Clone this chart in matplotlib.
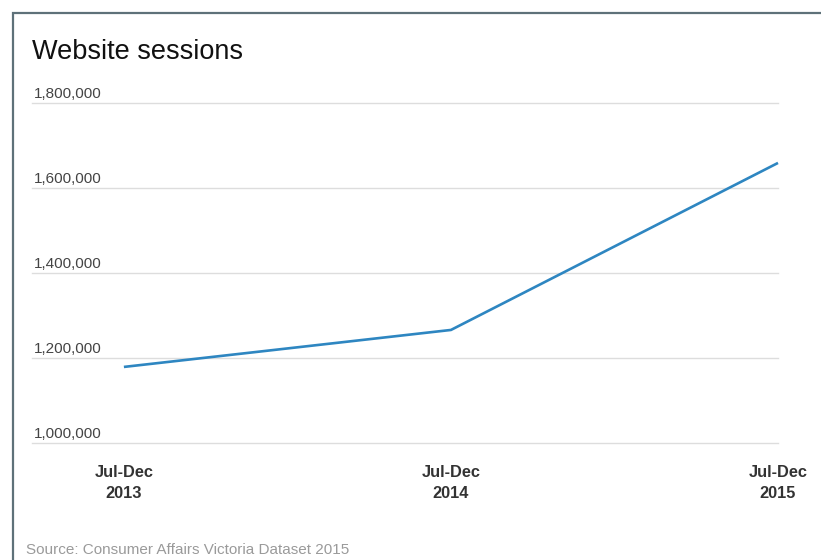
import matplotlib
matplotlib.use("Agg")
import matplotlib.pyplot as plt
import matplotlib.transforms as mtransforms
from matplotlib.lines import Line2D

categories = ["Jul-Dec\n2013", "Jul-Dec\n2014", "Jul-Dec\n2015"]
sessions = [1179000, 1266000, 1659000]
y_ticks = [1000000, 1200000, 1400000, 1600000, 1800000]
y_tick_labels = ["1,000,000", "1,200,000", "1,400,000", "1,600,000", "1,800,000"]

plt.rcParams['font.family'] = ['Liberation Sans', 'DejaVu Sans']

W, H = 821, 560
fig = plt.figure(figsize=(W / 100, H / 100), dpi=100)
fig.patch.set_facecolor("white")

left, right, top, bottom = 32, 778, 103, 443
ax = fig.add_axes([left / W, 1 - bottom / H, (right - left) / W, (bottom - top) / H])

x = list(range(len(categories)))
ax.plot(x, sessions, color="#2e86c1", linewidth=1.9, clip_on=False, solid_capstyle="butt", zorder=3)

ax.set_xlim(-0.281, 2)
ax.set_ylim(y_ticks[0], y_ticks[-1])
ax.set_yticks(y_ticks)
ax.yaxis.grid(True, color="#dddddd", linewidth=1)
for gl in ax.get_ygridlines():
    gl.set_clip_on(False)
ax.set_axisbelow(True)
ax.tick_params(axis="y", left=False, labelleft=False)
ax.tick_params(axis="x", bottom=False, pad=12)
ax.set_xticks(x)
ax.set_xticklabels(categories, fontweight="bold", fontsize=11.8, color="#333333", linespacing=1.5)
for s in ax.spines.values():
    s.set_visible(False)

offset = mtransforms.ScaledTranslation(2 / 100, 5 / 100, fig.dpi_scale_trans)
trans = mtransforms.blended_transform_factory(ax.transAxes, ax.transData) + offset
for v, lab in zip(y_ticks, y_tick_labels):
    ax.text(0, v, lab, transform=trans, ha="left", va="baseline", fontsize=11, color="#444444")

fig.text(32 / W, 1 - 59 / H, "Website sessions", fontsize=19.5, color="#111111", ha="left", va="baseline")
fig.text(26 / W, 1 - 554 / H, "Source: Consumer Affairs Victoria Dataset 2015", fontsize=11, color="#9a9a9a",
         ha="left", va="baseline")

frame_color = "#5e7179"
fig.add_artist(Line2D([12.5 / W, 12.5 / W, 1], [0, 1 - 12.5 / H, 1 - 12.5 / H], transform=fig.transFigure,
                      color=frame_color, linewidth=1.6, solid_joinstyle="miter"))

fig.savefig("out.png", dpi=100)
